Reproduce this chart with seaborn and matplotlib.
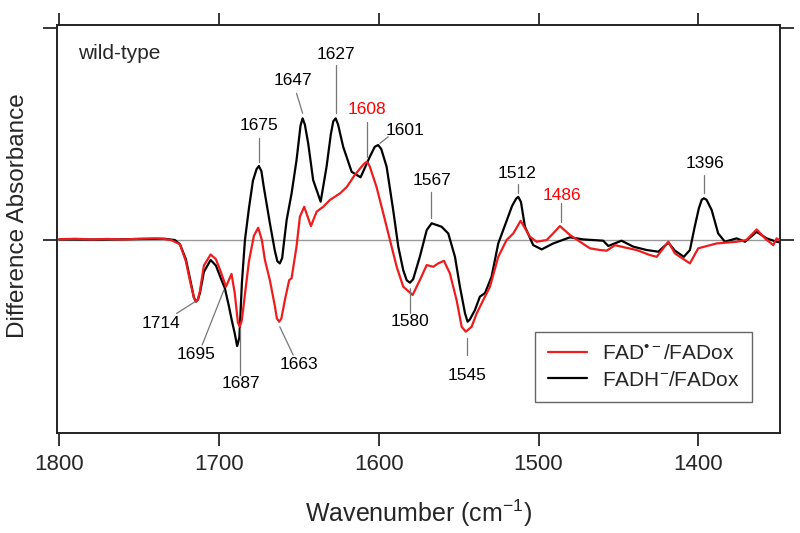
import numpy as np
import pandas as pd
import matplotlib
matplotlib.use("Agg")
import matplotlib.pyplot as plt
import seaborn as sns

# ---- data: difference spectra (arbitrary units, 1 = top tick) ----
wn_black = [1800, 1774.6, 1749.6, 1734, 1727.7, 1724.5, 1720.8, 1717.7, 1715.8, 1714.5, 1713.2,
            1712, 1709.5, 1705.3, 1702, 1698.9, 1696.4, 1693.9, 1692, 1690.2, 1688.7, 1687.3,
            1685.7, 1683.8, 1681.3, 1678.8, 1676.5, 1675.1, 1673.5, 1672, 1668.2, 1665.1,
            1663.5, 1662, 1660.5, 1659.5, 1657.7, 1654.6, 1651.5, 1649, 1647.7, 1646.3, 1644.2,
            1641.1, 1636.4, 1632.7, 1630, 1628.5, 1627, 1625.5, 1622.3, 1617, 1611.4, 1605.6,
            1602.5, 1600.4, 1598.5, 1595.1, 1591, 1587.8, 1584.7, 1582.5, 1580.5, 1578.5,
            1574.3, 1570, 1566.9, 1560.7, 1556.5, 1552.3, 1549.2, 1546, 1544.4, 1543,
            1539.8, 1536.7, 1533.5, 1529.4, 1525.2, 1520, 1516.6, 1514, 1512.7, 1511,
            1508.5, 1503.3, 1498, 1490.8, 1480.3, 1472, 1459.5, 1456.3, 1448, 1440.7,
            1432.3, 1425, 1418.7, 1414.6, 1409, 1405.2, 1402.2, 1399.6, 1397.8, 1396.5, 1394.8,
            1391.6, 1387.5, 1383.3, 1376, 1370.7, 1363.4, 1357.2, 1350.9, 1349.4]
abs_black = [0.003, 0.002, 0.005, 0.006, 0.0, -0.02, -0.09, -0.2, -0.27, -0.29, -0.28,
             -0.25, -0.15, -0.094, -0.12, -0.18, -0.227, -0.31, -0.38, -0.44, -0.50, -0.46,
             -0.2, 0.0, 0.15, 0.28, 0.335, 0.349, 0.325, 0.25, 0.08, -0.05,
             -0.1, -0.11, -0.085, -0.02, 0.094, 0.22, 0.377, 0.54, 0.574, 0.545, 0.456,
             0.283, 0.181, 0.346, 0.5, 0.56, 0.574, 0.545, 0.44, 0.322, 0.296, 0.393,
             0.44, 0.448, 0.43, 0.346, 0.142, -0.031, -0.142, -0.19, -0.201, -0.185,
             -0.079, 0.047, 0.079, 0.063, 0.031, -0.079, -0.22, -0.346, -0.385, -0.375,
             -0.33, -0.267, -0.25, -0.173, -0.016, 0.09, 0.16, 0.195, 0.204, 0.18,
             0.063, -0.024, -0.044, -0.016, 0.013, 0.003, -0.003, -0.028, -0.003, -0.031,
             -0.047, -0.055, -0.012, -0.05, -0.079, -0.047, 0.063, 0.15, 0.19, 0.197, 0.19,
             0.142, 0.031, -0.008, 0.008, -0.008, 0.039, 0.008, -0.008, -0.01]

wn_red = [1800, 1790, 1780, 1770, 1760, 1750, 1740, 1735, 1730, 1724.5, 1720.8, 1717.7,
          1715.8, 1714.5, 1713.2, 1712, 1709.5, 1705.3, 1702, 1698.9, 1695.7, 1692.2, 1690.2,
          1688.2, 1687, 1685.8, 1684.5, 1681.3, 1678.2, 1675.5, 1673.2, 1671.3, 1668.2, 1665.1,
          1663.8, 1662.4, 1661, 1658.8, 1656.1, 1654.6, 1651.5, 1649.4, 1646.7, 1642.5,
          1638.9, 1634.8, 1630.6, 1624.3, 1620.1, 1615, 1610.8, 1609.2, 1607.6, 1606.5,
          1605.6, 1601.4, 1597.2, 1593, 1588.8, 1584.7, 1578.8, 1574.3, 1570, 1565.9, 1562.8,
          1559.2, 1555.5, 1551.3, 1548.1, 1545.5, 1541.9, 1538.7, 1534.6, 1530.4, 1525.2,
          1520, 1515.8, 1511.2, 1505.4, 1501.2, 1494.9, 1491, 1486.6, 1480.3, 1474, 1467.8,
          1461.5, 1457.3, 1452.1, 1445.9, 1438.5, 1430.2, 1426, 1418.7, 1414.6, 1405.2, 1400,
          1388.5, 1376, 1369.9, 1363.4, 1358.2, 1353, 1350.9, 1349.4]
abs_red = [0.004, 0.006, 0.003, 0.005, 0.003, 0.006, 0.008, 0.006, 0.0, -0.02, -0.1, -0.21,
           -0.27, -0.29, -0.28, -0.24, -0.12, -0.068, -0.09, -0.15, -0.22, -0.16, -0.25,
           -0.39, -0.409, -0.38, -0.3, -0.1, 0.02, 0.058, 0.0, -0.094, -0.189, -0.31,
           -0.37, -0.385, -0.37, -0.283, -0.189, -0.18, -0.03, 0.11, 0.157, 0.066,
           0.134, 0.157, 0.189, 0.22, 0.25, 0.307, 0.346, 0.36, 0.369, 0.36,
           0.346, 0.25, 0.126, 0.0, -0.126, -0.22, -0.259, -0.189, -0.118, -0.126, -0.11,
           -0.098, -0.157, -0.283, -0.409, -0.432, -0.409, -0.346, -0.283, -0.22, -0.079,
           0.0, 0.031, 0.091, 0.016, -0.008, 0.0, 0.03, 0.066, 0.024, -0.008, -0.039,
           -0.047, -0.05, -0.024, -0.035, -0.047, -0.071, -0.079, -0.008, -0.063, -0.11, -0.039,
           -0.016, -0.008, 0.0, 0.05, 0.008, -0.024, 0.008, 0.0]

# peak labels: text, text position (wn, y), leader line (wn0, y0, wn1, y1), colour
peak_text = ["1675", "1647", "1627", "1608", "1601", "1567", "1512", "1486", "1396",
             "1714", "1695", "1687", "1663", "1580", "1545"]
peak_xy = [(1674.9, 0.538), (1653.6, 0.751), (1627, 0.873), (1607.6, 0.616), (1583.6, 0.519),
           (1566.9, 0.283), (1513.3, 0.314), (1485.5, 0.212), (1395.8, 0.362),
           (1736.6, -0.393), (1714.5, -0.542), (1686.3, -0.676), (1650, -0.586),
           (1580.5, -0.385), (1544.8, -0.637)]
peak_line = [(1675, 0.48, 1675, 0.369), (1651.5, 0.692, 1647.7, 0.598), (1627, 0.825, 1627, 0.598),
             (1607.6, 0.558, 1607.6, 0.393), (1594.1, 0.487, 1599.3, 0.456),
             (1567, 0.228, 1567, 0.102), (1512.7, 0.264, 1512.7, 0.22), (1486.1, 0.173, 1486.1, 0.086),
             (1396.3, 0.307, 1396.3, 0.22),
             (1726.6, -0.346, 1715.1, -0.291), (1710.6, -0.495, 1697, -0.236),
             (1687, -0.637, 1687, -0.417), (1653.6, -0.542, 1662, -0.409),
             (1580.5, -0.228, 1580.5, -0.346), (1545, -0.462, 1545, -0.54)]
peak_color = ["black", "black", "black", "red", "black", "black", "black", "red", "black",
              "black", "black", "black", "black", "black", "black"]

RED = "#ee1c1c"

df = pd.concat([
    pd.DataFrame({"wn": wn_red, "dA": abs_red, "s": "red"}),
    pd.DataFrame({"wn": wn_black, "dA": abs_black, "s": "black"}),
])

sns.set_theme(style="ticks")
plt.rcParams["font.family"] = ["Liberation Sans", "DejaVu Sans"]
plt.rcParams["mathtext.fontset"] = "custom"
plt.rcParams["mathtext.rm"] = "Liberation Sans"
plt.rcParams["mathtext.it"] = "Liberation Sans"

fig = plt.figure(figsize=(8, 5.33), dpi=100)
ax = fig.add_axes([0.071, 0.1876, 0.904, 0.7654])

ax.axhline(0, color="#999999", lw=1.0, zorder=1)
sns.lineplot(data=df[df.s == "red"], x="wn", y="dA", color=RED, lw=1.6, ax=ax,
             label="FAD$^{\u2022-}$/FADox", zorder=3)
sns.lineplot(data=df[df.s == "black"], x="wn", y="dA", color="black", lw=1.6, ax=ax,
             label=r"FADH$^{-}$/FADox", zorder=2)
for ln in ax.get_lines():
    ln.set_solid_joinstyle("round")

for t, (x, y), (x0, y0, x1, y1), c in zip(peak_text, peak_xy, peak_line, peak_color):
    ax.plot([x0, x1], [y0, y1], color="#777777", lw=0.9, zorder=4)
    ax.text(x, y, t, color=("red" if c == "red" else "black"), fontsize=12.5,
            ha="center", va="center")

ax.text(1788.4, 0.882, "wild-type", fontsize=15, ha="left", va="center")

ax.set_xlim(1801.6, 1348.8)
ax.set_ylim(-0.910, 1.014)
ax.set_xticks([1800, 1700, 1600, 1500, 1400])
ax.set_yticks([0, 1])
ax.set_yticklabels([])
ax.tick_params(axis="x", which="both", direction="out", length=9, width=1.3,
               labelsize=16, top=True, pad=6)
ax.tick_params(axis="y", which="both", direction="out", length=10, width=1.3, right=True)
for sp in ax.spines.values():
    sp.set_visible(True)
    sp.set_linewidth(1.4)
    sp.set_color("#222222")

ax.set_xlabel("Wavenumber (cm$^{-1}$)", fontsize=18)
ax.xaxis.set_label_coords(0.5, -0.158)
ax.set_ylabel("Difference Absorbance", fontsize=17.5)
ax.yaxis.set_label_coords(-0.038, 0.534)

leg = ax.legend(loc="lower right", bbox_to_anchor=(0.961, 0.076), fontsize=15,
                frameon=True, fancybox=False, edgecolor="#666666", framealpha=1,
                handlelength=1.9, handletextpad=0.7, borderpad=0.6, labelspacing=0.35,
                borderaxespad=0)
leg.get_frame().set_linewidth(1.0)

fig.savefig("out.png", dpi=100)
